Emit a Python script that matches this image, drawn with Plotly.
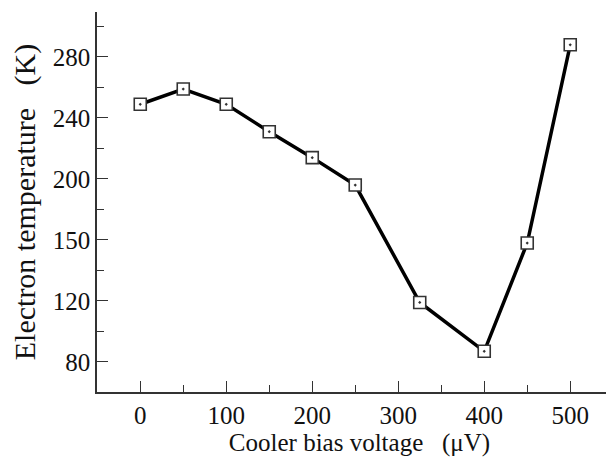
import plotly.graph_objects as go

# Cooler bias voltage (uV) and electron temperature (K)
bias_uv = [0, 50, 100, 150, 200, 250, 325, 400, 450, 500]
temp_k = [249, 259, 249, 231, 214, 196, 119, 87, 158, 288]

y_tickvals = [80, 120, 160, 200, 240, 280]
y_ticktext = ["80", "120", "150", "200", "240", "280"]
y_minorvals = [100, 140, 180, 220, 260, 300]

font_family = "Liberation Serif, Times New Roman, serif"
axis_color = "#333333"

fig = go.Figure()
fig.add_trace(go.Scatter(
    x=bias_uv, y=temp_k,
    mode="lines+markers",
    line=dict(color="black", width=3.5),
    marker=dict(symbol="square-dot", size=12, color="white",
                line=dict(color="#333333", width=1.6)),
    showlegend=False,
))

# page body has an 8px margin, so the plot box is shifted up/left by 8px
fig.update_layout(
    width=614, height=466,
    margin=dict(l=89, r=0, t=4, b=82),
    paper_bgcolor="white", plot_bgcolor="white",
    font=dict(family=font_family, size=25, color="#111111"),
)

fig.update_xaxes(
    range=[-50.3, 560.2], showgrid=False, zeroline=False, automargin=False,
    showline=True, linecolor=axis_color, linewidth=1.5,
    ticks="inside", ticklen=11, tickwidth=1.3, tickcolor=axis_color,
    dtick=100, tick0=0, tickfont=dict(size=25),
    minor=dict(ticks="inside", ticklen=7, tickwidth=1.3, tickcolor=axis_color, dtick=50),
    title=dict(text="Cooler bias voltage   (\u03bcV)", font=dict(size=25), standoff=6),
)
fig.update_yaxes(
    range=[60.3, 309.5], showgrid=False, zeroline=False, automargin=False,
    showline=True, linecolor=axis_color, linewidth=1.5,
    ticks="inside", ticklen=11, tickwidth=1.3, tickcolor=axis_color,
    tickmode="array", tickvals=y_tickvals, ticktext=y_ticktext, tickfont=dict(size=25),
    minor=dict(ticks="inside", ticklen=7, tickwidth=1.3, tickcolor=axis_color,
               tickmode="array", tickvals=y_minorvals),
    title=dict(text="Electron temperature   (K)", font=dict(size=30), standoff=13),
)

fig.write_html("out.html")
